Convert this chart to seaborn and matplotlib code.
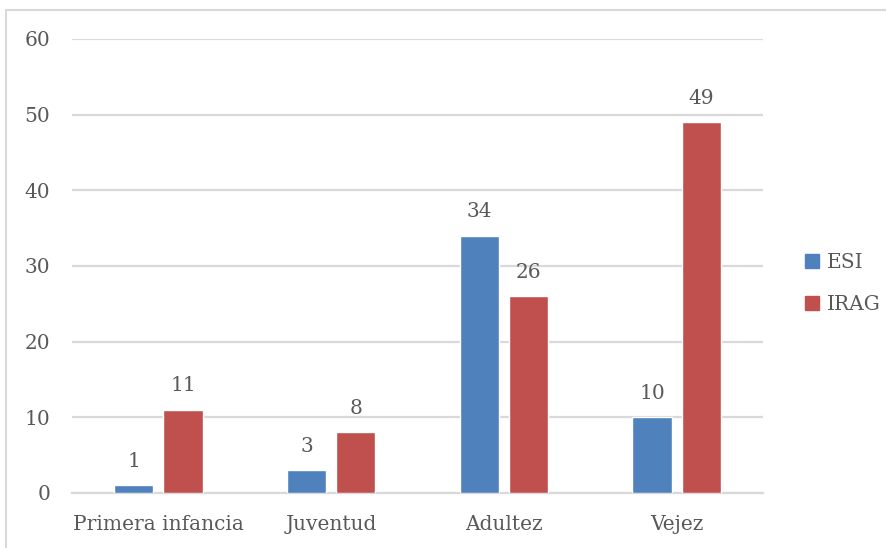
import matplotlib
matplotlib.use("Agg")
import matplotlib.pyplot as plt
from matplotlib.patches import Rectangle
from matplotlib.lines import Line2D
import seaborn as sns
import pandas as pd

categories = ["Primera infancia", "Juventud", "Adultez", "Vejez"]
series_names = ["ESI", "IRAG"]
esi_values = [1, 3, 34, 10]
irag_values = [11, 8, 26, 49]
y_ticks = [0, 10, 20, 30, 40, 50, 60]

colors = {"ESI": "#4F81BD", "IRAG": "#C0504D"}
text_color = "#595959"
grid_color = "#D9D9D9"
font_size = 14.5

df = pd.DataFrame({
    "grupo": categories * 2,
    "serie": [series_names[0]] * len(categories) + [series_names[1]] * len(categories),
    "valor": esi_values + irag_values,
})

sns.set_theme(style="white")
plt.rcParams["font.family"] = ["DejaVu Serif"]

fig = plt.figure(figsize=(8.87, 5.48), dpi=100)
ax = fig.add_axes([72 / 887, 1 - 493 / 548, (763 - 72) / 887, (493 - 39) / 548])

sns.barplot(data=df, x="grupo", y="valor", hue="serie", order=categories,
            hue_order=series_names, palette=colors, width=0.57, gap=0.2,
            saturation=1, errorbar=None, legend=False, ax=ax, zorder=3)

for container in ax.containers:
    ax.bar_label(container, fmt="%d", padding=10.5, fontsize=font_size, color=text_color)

ax.set_ylim(0, 60)
ax.set_xlim(-0.5, len(categories) - 0.5)
ax.set_yticks(y_ticks)
ax.yaxis.grid(True, color=grid_color, linewidth=1.6, zorder=0)
ax.set_axisbelow(True)
for side in ["left", "right", "top"]:
    ax.spines[side].set_visible(False)
ax.spines["bottom"].set_color(grid_color)
ax.spines["bottom"].set_linewidth(1.6)
ax.tick_params(axis="y", length=0, pad=15.5, labelsize=font_size, labelcolor=text_color)
ax.tick_params(axis="x", length=0, pad=16, labelsize=font_size, labelcolor=text_color)
ax.set_xlabel("")
ax.set_ylabel("")

handles = [Line2D([0], [0], marker="s", linestyle="none", markersize=9.5,
                  markerfacecolor=colors[s], markeredgecolor=colors[s]) for s in series_names]
fig.legend(handles, series_names, loc="center left", bbox_to_anchor=(803 / 887, 1 - 283.5 / 548),
           frameon=False, fontsize=font_size, labelcolor=text_color, handletextpad=0.27,
           labelspacing=1.12, handlelength=0.9, borderaxespad=0, borderpad=0)

fig.add_artist(Rectangle((6 / 887, -0.1), 1.2, 1 - 10 / 548 + 0.1, transform=fig.transFigure,
                         fill=False, edgecolor=grid_color, linewidth=1.5))

fig.savefig("out.png", dpi=100)
